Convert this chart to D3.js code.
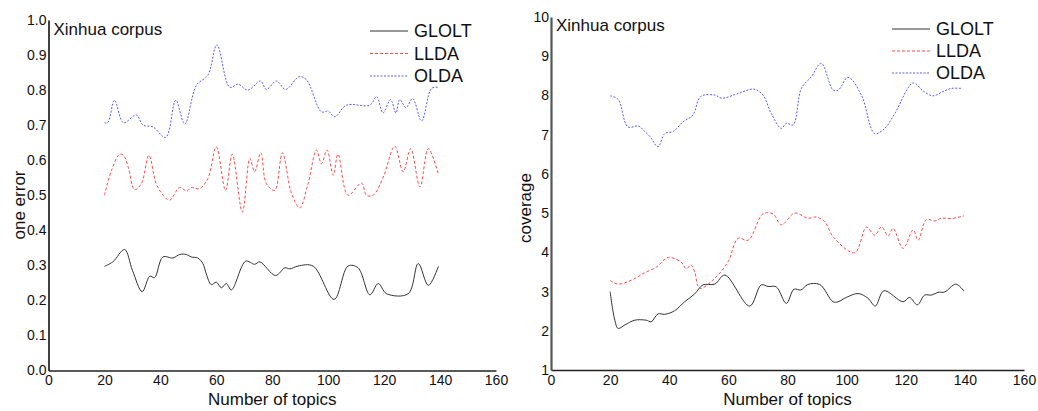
<!DOCTYPE html>
<html>
<head>
<meta charset="utf-8">
<script src="https://cdn.jsdelivr.net/npm/d3@7"></script>
<style>
  body { margin: 0; background: #ffffff; }
  svg { display: block; font-family: "Liberation Sans", Arial, sans-serif; }
</style>
</head>
<body>
<svg id="drawing_region"></svg>
<script>
// series names and styles in legend order
const seriesNames = ["GLOLT", "LLDA", "OLDA"];

// left panel: one error vs number of topics  [topic, value]
const oneErrorGLOLT = [[20,0.297],[23,0.31],[27.2,0.345],[30,0.286],[33.5,0.225],[36.2,0.269],[37.9,0.265],[40.9,0.324],[44.5,0.321],[46.9,0.331],[49.3,0.331],[51,0.324],[53.4,0.321],[55.2,0.305],[56.4,0.276],[58.2,0.245],[60,0.252],[61.8,0.236],[63.6,0.248],[65.4,0.23],[70.5,0.312],[73.7,0.303],[75.5,0.31],[81.2,0.271],[84.5,0.293],[86.3,0.29],[89.2,0.298],[94.6,0.298],[102.1,0.203],[107.1,0.298],[110.7,0.293],[114.9,0.216],[117.9,0.248],[120.9,0.219],[128.6,0.219],[132.2,0.305],[135.8,0.243],[139.4,0.297]];
const oneErrorLLDA = [[20,0.50],[22.5,0.57],[25.4,0.617],[26.8,0.614],[28.5,0.58],[30.8,0.516],[33.2,0.533],[35.9,0.614],[38.5,0.533],[41,0.50],[43.3,0.486],[46.9,0.522],[49.5,0.512],[51,0.522],[54,0.519],[57,0.548],[60,0.638],[63.3,0.514],[65.7,0.617],[69.3,0.452],[72,0.605],[73.7,0.567],[75.9,0.621],[77.9,0.533],[80.9,0.514],[83.6,0.621],[86.9,0.505],[89.8,0.464],[92.8,0.533],[95.8,0.629],[97.6,0.59],[99.6,0.629],[101.8,0.557],[103.5,0.617],[107.1,0.50],[111.9,0.535],[113.7,0.50],[116.1,0.50],[119.7,0.552],[123.8,0.64],[126.8,0.567],[129.5,0.633],[132.8,0.524],[135.8,0.633],[139.5,0.557]];
const oneErrorOLDA = [[20,0.707],[21.2,0.707],[23.6,0.771],[26.8,0.707],[31.4,0.729],[33.8,0.70],[37.3,0.695],[41.9,0.665],[45.5,0.771],[48.7,0.703],[52.9,0.814],[57,0.843],[60.2,0.929],[64.8,0.808],[67.8,0.817],[71.3,0.80],[75.8,0.826],[77.9,0.802],[81.5,0.826],[84.8,0.802],[89.6,0.838],[92.2,0.83],[97.6,0.738],[100,0.74],[102.4,0.724],[106.5,0.757],[114.9,0.757],[117.3,0.781],[119.6,0.735],[122.3,0.773],[124.2,0.735],[125.6,0.773],[127.8,0.75],[130.2,0.776],[133.4,0.712],[137,0.805],[139.7,0.808]];

// right panel: coverage vs number of topics  [topic, value]
const coverageGLOLT = [[20,3.0],[21.5,2.3],[22.7,2.06],[25,2.15],[28.3,2.27],[32.2,2.27],[33.9,2.23],[36.2,2.43],[38.5,2.42],[41.8,2.51],[45.2,2.74],[48.6,2.94],[51.4,3.17],[55.4,3.19],[58.8,3.42],[67.2,2.63],[71.1,3.17],[73.4,3.13],[76.2,3.12],[79.6,2.7],[82.2,3.06],[84.5,3.04],[86.9,3.18],[90.9,3.18],[95.4,2.74],[97.1,2.74],[99.9,2.85],[103.9,2.95],[107.2,2.83],[109.7,2.63],[112.6,3.02],[119.1,2.74],[121.3,2.85],[123.9,2.66],[126.4,2.91],[128.7,2.91],[130.9,2.98],[133.2,2.99],[136.9,3.19],[139.7,3.01]];
const coverageLLDA = [[20,3.28],[22.7,3.19],[27.2,3.29],[31.7,3.48],[35.6,3.62],[39.6,3.87],[44,3.75],[45.8,3.58],[47.3,3.68],[48.6,3.5],[50.3,3.08],[55.4,3.34],[59.9,3.76],[63.3,4.36],[66.7,4.31],[71.7,4.98],[75.1,4.98],[77.9,4.7],[82.4,5.0],[86.9,4.87],[89.7,4.9],[92.6,4.78],[95.4,4.4],[102.7,3.99],[106.7,4.64],[109.5,4.44],[111.8,4.65],[114,4.42],[115.7,4.61],[119.1,4.1],[122.5,4.57],[124.2,4.31],[127,4.84],[129.8,4.8],[132,4.87],[135.4,4.86],[139.7,4.93]];
const coverageOLDA = [[20,7.99],[22.7,7.9],[26,7.2],[29.7,7.22],[31.7,7.08],[33.5,6.95],[36.2,6.69],[38.5,7.03],[41.3,7.08],[44.7,7.33],[48,7.5],[50.6,7.97],[55.4,8.01],[57.8,7.93],[63.3,8.05],[68.7,8.16],[71.7,8.01],[74.5,7.54],[77.9,7.16],[79.6,7.29],[81.9,7.25],[84.7,8.18],[88.1,8.48],[91.4,8.82],[95.4,8.14],[97.1,8.13],[100.5,8.46],[105,8.01],[109.5,7.03],[112.9,7.16],[116.3,7.54],[122.5,8.32],[125.8,8.12],[129.2,7.99],[132.6,8.1],[135.4,8.18],[138.8,8.18]];

const topicDomain = [0, 160];
const oneErrorDomain = [0, 1];
const coverageDomain = [1, 10];

const svg = d3.select('#drawing_region')
    .attr('width', 1038)
    .attr('height', 411);

const lineStyles = [
    {color: '#333333', dash: null},
    {color: '#ff4a4a', dash: '3,2'},
    {color: '#5a5aff', dash: '2,1.5'}
];

class LinePanel {
    constructor( config, series ) {
        this.config = config;
        this.series = series;
        this.init();
    }

    init() {
        let self = this;
        let c = self.config;

        self.chart = svg.append('g')
            .attr('transform', `translate(${c.left}, ${c.top})`);

        self.xscale = d3.scaleLinear()
            .domain( topicDomain )
            .range( [0, c.width] );

        self.yscale = d3.scaleLinear()
            .domain( c.ydomain )
            .range( [c.height, 0] );

        self.xaxis = d3.axisBottom( self.xscale )
            .ticks(8)
            .tickSize(0)
            .tickPadding(5);

        self.yaxis = d3.axisLeft( self.yscale )
            .ticks(c.yticks)
            .tickFormat(c.yformat)
            .tickSize(0)
            .tickPadding(2);

        self.xaxis_group = self.chart.append('g')
            .attr('transform', `translate(0, ${c.height})`)
            .call( self.xaxis );
        self.yaxis_group = self.chart.append('g')
            .call( self.yaxis );

        self.chart.selectAll('.domain')
            .attr('stroke', c.axisColor);
        self.xaxis_group.select('.domain')
            .attr('stroke', '#222')
            .attr('stroke-width', 1.6);
        self.yaxis_group.select('.domain')
            .attr('stroke', c.axisColor)
            .attr('stroke-width', c.axisWidth);
        self.chart.selectAll('.tick text')
            .attr('font-size', '14px')
            .attr('fill', '#111');

        svg.append('text')
            .attr('x', c.left + c.width/2)
            .attr('y', 405)
            .attr('text-anchor', 'middle')
            .attr('font-size', '17px')
            .attr('fill', '#111')
            .text('Number of topics');

        svg.append('text')
            .attr('transform', `translate(${c.ylabelX}, ${c.ylabelY}) rotate(-90)`)
            .attr('text-anchor', 'middle')
            .attr('font-size', '17px')
            .attr('fill', '#111')
            .text(c.ylabel);

        svg.append('text')
            .attr('x', c.left + 5)
            .attr('y', c.titleY)
            .attr('font-size', '17px')
            .attr('fill', '#111')
            .text('Xinhua corpus');
    }

    render() {
        let self = this;
        let c = self.config;

        const line = d3.line()
            .x( d => self.xscale(d[0]) )
            .y( d => self.yscale(d[1]) )
            .curve( d3.curveCatmullRom.alpha(0.5) );

        self.chart.selectAll('path.series')
            .data(self.series)
            .join('path')
            .attr('class', 'series')
            .attr('d', d => line(d))
            .attr('fill', 'none')
            .attr('stroke', (d, i) => lineStyles[i].color)
            .attr('stroke-width', 1)
            .attr('stroke-dasharray', (d, i) => lineStyles[i].dash);

        const legend = svg.append('g');
        seriesNames.forEach( (name, i) => {
            const y = c.legendY + i * c.legendGap;
            legend.append('line')
                .attr('x1', c.legendX)
                .attr('x2', c.legendX + 38)
                .attr('y1', y)
                .attr('y2', y)
                .attr('stroke', lineStyles[i].color)
                .attr('stroke-width', 1)
                .attr('stroke-dasharray', lineStyles[i].dash);
            legend.append('text')
                .attr('x', c.legendX + 44)
                .attr('y', y)
                .attr('dy', '0.36em')
                .attr('font-size', '18px')
                .attr('fill', '#111')
                .text(name);
        });
    }
}

const leftPanel = new LinePanel({
    left: 48.5, top: 20, width: 447.5, height: 350.5,
    ydomain: oneErrorDomain, yticks: 10, yformat: d3.format('.1f'),
    axisColor: '#111', axisWidth: 1.6,
    ylabel: 'one error', ylabelX: 25, ylabelY: 205,
    titleY: 35,
    legendX: 370, legendY: 31, legendGap: 22.5
}, [oneErrorGLOLT, oneErrorLLDA, oneErrorOLDA]);
leftPanel.render();

const rightPanel = new LinePanel({
    left: 551, top: 17, width: 473, height: 353,
    ydomain: coverageDomain, yticks: 9, yformat: d3.format('d'),
    axisColor: '#555', axisWidth: 2.2,
    ylabel: 'coverage', ylabelX: 531, ylabelY: 208,
    titleY: 31,
    legendX: 892, legendY: 29, legendGap: 22
}, [coverageGLOLT, coverageLLDA, coverageOLDA]);
rightPanel.render();
</script>
</body>
</html>
